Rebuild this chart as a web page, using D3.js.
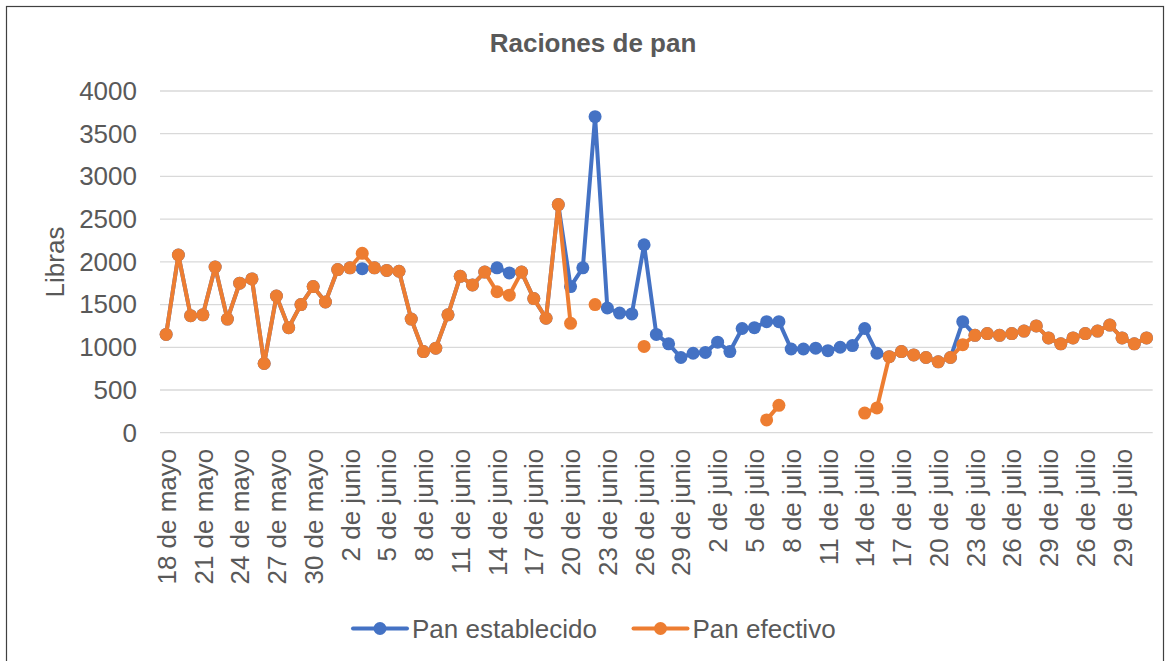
<!DOCTYPE html>
<html>
<head>
<meta charset="utf-8">
<script src="https://cdn.jsdelivr.net/npm/d3@7"></script>
<style>
  html, body { margin: 0; padding: 0; background: #fff; }
  svg { display: block; font-family: "Liberation Sans", Arial, sans-serif; }
</style>
</head>
<body>
<svg id="chart" width="1171" height="661"></svg>
<script>
const title = "Raciones de pan";
const yTitle = "Libras";
const seriesNames = ["Pan establecido", "Pan efectivo"];
const seriesColors = ["#4472C4", "#ED7D31"];

const categories = [
  "18 de mayo","19 de mayo","20 de mayo","21 de mayo","22 de mayo","23 de mayo","24 de mayo","25 de mayo","26 de mayo","27 de mayo","28 de mayo","29 de mayo","30 de mayo","31 de mayo",
  "1 de junio","2 de junio","3 de junio","4 de junio","5 de junio","6 de junio","7 de junio","8 de junio","9 de junio","10 de junio","11 de junio","12 de junio","13 de junio","14 de junio","15 de junio","16 de junio","17 de junio","18 de junio","19 de junio","20 de junio","21 de junio","22 de junio","23 de junio","24 de junio","25 de junio","26 de junio","27 de junio","28 de junio","29 de junio","30 de junio",
  "1 de julio","2 de julio","3 de julio","4 de julio","5 de julio","6 de julio","7 de julio","8 de julio","9 de julio","10 de julio","11 de julio","12 de julio","13 de julio","14 de julio","15 de julio","16 de julio","17 de julio","18 de julio","19 de julio","20 de julio","21 de julio","22 de julio","23 de julio","24 de julio","25 de julio","26 de julio","27 de julio","28 de julio","29 de julio","30 de julio","31 de julio",
  "26 de julio","27 de julio","28 de julio","29 de julio","30 de julio","31 de julio"
];

const panEstablecido = [
  1150,2080,1370,1380,1940,1330,1750,1800,810,1600,1230,1500,1710,1530,
  1910,1930,1920,1930,1900,1890,1330,950,990,1380,1830,1730,1880,1930,1870,1880,1570,1340,2670,1710,1930,3700,1460,1400,1390,2200,1150,1040,880,930,
  940,1060,950,1220,1230,1300,1300,980,980,990,960,1000,1020,1220,930,890,950,910,880,830,880,1300,1140,1160,1140,1160,1190,1250,1110,1040,1110,
  1160,1190,1260,1110,1040,1110
];

const panEfectivo = [
  1150,2080,1370,1380,1940,1330,1750,1800,810,1600,1230,1500,1710,1530,
  1910,1930,2100,1930,1900,1890,1330,950,990,1380,1830,1730,1880,1650,1610,1880,1570,1340,2670,1280,null,1500,null,null,null,1010,null,null,null,null,
  null,null,null,null,null,150,320,null,null,null,null,null,null,230,290,890,950,910,880,830,880,1030,1140,1160,1140,1160,1190,1250,1110,1040,1110,
  1160,1190,1260,1110,1040,1110
];

const yTicks = [0,500,1000,1500,2000,2500,3000,3500,4000];

const svg = d3.select("#chart");
const textColor = "#595959";

// outer border
svg.append("rect")
  .attr("x", 6.5).attr("y", 6.5)
  .attr("width", 1157).attr("height", 662)
  .attr("fill", "none").attr("stroke", "#404040").attr("stroke-width", 1.2);

const plot = { left: 160, right: 1152.7, top: 91, bottom: 432.7 };

const x = d3.scalePoint()
  .domain(d3.range(categories.length))
  .range([plot.left, plot.right])
  .padding(0.5);

const y = d3.scaleLinear().domain([0, 4000]).range([plot.bottom, plot.top]);

// gridlines
svg.append("g")
  .selectAll("line")
  .data(yTicks)
  .join("line")
  .attr("x1", plot.left).attr("x2", plot.right)
  .attr("y1", d => y(d)).attr("y2", d => y(d))
  .attr("stroke", "#d9d9d9").attr("stroke-width", 1.3);

// y axis labels
const yAxis = svg.append("g")
  .attr("transform", `translate(${plot.left - 23},0)`)
  .call(d3.axisLeft(y).tickValues(yTicks).tickFormat(d3.format("d")).tickSize(0).tickPadding(0));
yAxis.select(".domain").remove();
yAxis.selectAll("text")
  .attr("fill", textColor)
  .style("font-size", "26px")
  .style("font-family", "'Liberation Sans', Arial, sans-serif");

// x axis labels
const xAxis = svg.append("g")
  .attr("transform", `translate(0,${plot.bottom})`)
  .call(d3.axisBottom(x)
    .tickValues(d3.range(0, categories.length, 3))
    .tickFormat(i => categories[i])
    .tickSize(0));
xAxis.select(".domain").remove();
xAxis.selectAll("text")
  .attr("fill", textColor)
  .style("font-size", "26px")
  .style("font-family", "'Liberation Sans', Arial, sans-serif")
  .attr("text-anchor", "end")
  .attr("transform", "rotate(-90)")
  .attr("x", -16)
  .attr("y", 0)
  .attr("dy", "0.35em");

// titles
svg.append("text")
  .attr("x", 593).attr("y", 52)
  .attr("text-anchor", "middle")
  .attr("fill", textColor)
  .style("font-size", "26px")
  .style("font-weight", "bold")
  .text(title);

svg.append("text")
  .attr("transform", "translate(64,262) rotate(-90)")
  .attr("text-anchor", "middle")
  .attr("fill", textColor)
  .style("font-size", "26px")
  .text(yTitle);

// series
const seriesData = [panEstablecido, panEfectivo];
const line = d3.line()
  .defined(d => d.v != null)
  .x(d => x(d.i))
  .y(d => y(d.v));

seriesData.forEach((vals, si) => {
  const pts = vals.map((v, i) => ({ i, v }));
  const g = svg.append("g");
  g.append("path")
    .datum(pts)
    .attr("d", line)
    .attr("fill", "none")
    .attr("stroke", seriesColors[si])
    .attr("stroke-width", 4)
    .attr("stroke-linejoin", "round")
    .attr("stroke-linecap", "round");
  g.selectAll("circle")
    .data(pts.filter(d => d.v != null))
    .join("circle")
    .attr("cx", d => x(d.i))
    .attr("cy", d => y(d.v))
    .attr("r", 6.5)
    .attr("fill", seriesColors[si]);
});

// legend
const legendItems = [
  { name: seriesNames[0], color: seriesColors[0], x0: 353 },
  { name: seriesNames[1], color: seriesColors[1], x0: 633.5 }
];
const lg = svg.append("g");
legendItems.forEach(it => {
  lg.append("line")
    .attr("x1", it.x0).attr("x2", it.x0 + 54)
    .attr("y1", 628.5).attr("y2", 628.5)
    .attr("stroke", it.color).attr("stroke-width", 4)
    .attr("stroke-linecap", "round");
  lg.append("circle")
    .attr("cx", it.x0 + 27).attr("cy", 628.5).attr("r", 6.5)
    .attr("fill", it.color);
  lg.append("text")
    .attr("x", it.x0 + 59).attr("y", 628.5)
    .attr("dy", "0.35em")
    .attr("fill", textColor)
    .style("font-size", "26px")
    .text(it.name);
});
</script>
</body>
</html>
